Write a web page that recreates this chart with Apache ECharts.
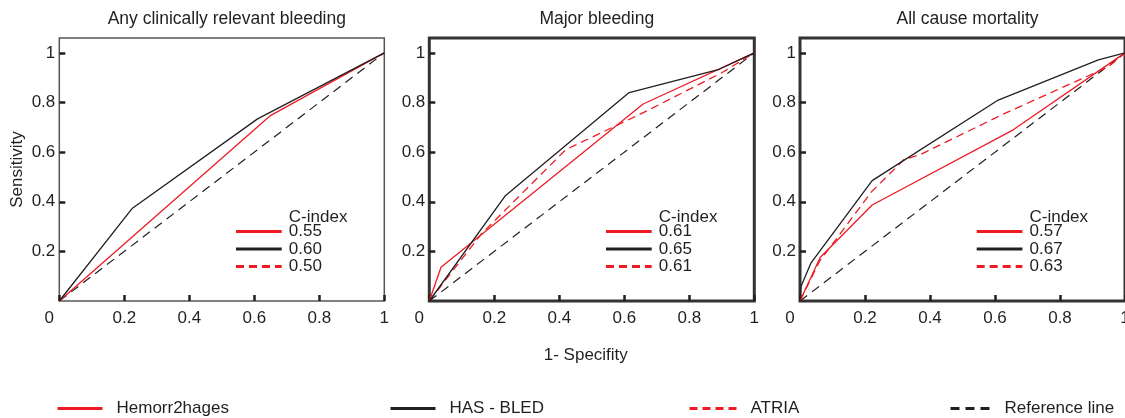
<!DOCTYPE html>
<html>
<head>
<meta charset="utf-8">
<script src="https://cdn.jsdelivr.net/npm/echarts@6/dist/echarts.min.js"></script>
<style>
html,body{margin:0;padding:0;background:#fff;}
#c{width:1125px;height:418px;}
</style>
</head>
<body>
<div id="c"></div>
<script>
// ---------- data ----------
const panelTitles = ['Any clinically relevant bleeding', 'Major bleeding', 'All cause mortality'];
const xTickLabels = ['0', '0.2', '0.4', '0.6', '0.8', '1'];
const yTickLabels = ['', '0.2', '0.4', '0.6', '0.8', '1'];
const seriesNames = ['Hemorr2hages', 'HAS - BLED', 'ATRIA', 'Reference line'];

const referenceLine = [[0, 0], [1, 1]];

// Panel 1: Any clinically relevant bleeding
const p1Hemorr = [[0, 0], [0.648, 0.746], [1, 1]];
const p1HasBled = [[0, 0], [0.225, 0.374], [0.61, 0.734], [1, 1]];
const p1CIndex = ['0.55', '0.60', '0.50'];

// Panel 2: Major bleeding
const p2Hemorr = [[0, 0], [0.036, 0.136], [0.658, 0.794], [1, 1]];
const p2HasBled = [[0, 0], [0.233, 0.423], [0.615, 0.84], [0.892, 0.934], [1, 1]];
const p2Atria = [[0, 0], [0.16, 0.27], [0.42, 0.61], [0.66, 0.76], [0.9, 0.92], [1, 1]];
const p2CIndex = ['0.61', '0.65', '0.61'];

// Panel 3: All cause mortality
const p3Hemorr = [[0, 0], [0.062, 0.175], [0.222, 0.387], [0.656, 0.69], [1, 1]];
const p3HasBled = [[0, 0], [0.003, 0.058], [0.034, 0.154], [0.222, 0.485], [0.61, 0.81], [0.918, 0.972], [1, 1]];
const p3Atria = [[0, 0], [0.06, 0.16], [0.22, 0.44], [0.32, 0.57], [0.37, 0.59], [0.62, 0.75], [0.95, 0.945], [1, 1]];
const p3CIndex = ['0.57', '0.67', '0.63'];

// ---------- styling ----------
const FONT = '"Liberation Sans", Arial, sans-serif';
const RED = '#ed1c24';
const BLACK = '#231f20';
const TXT = '#231f20';
const FS = 17;

const gridLefts = [59.3, 429.3, 800];
const gridTop = 38, gridW = 325, gridH = 263;
const borderStyles = [
  { color: '#555', width: 1.5 },
  { color: '#333', width: 3 },
  { color: '#333', width: 3 }
];

const panels = [
  { hemorr: p1Hemorr, has: p1HasBled, atria: null, cidx: p1CIndex },
  { hemorr: p2Hemorr, has: p2HasBled, atria: p2Atria, cidx: p2CIndex },
  { hemorr: p3Hemorr, has: p3HasBled, atria: p3Atria, cidx: p3CIndex }
];

const grids = [], xAxes = [], yAxes = [], series = [], titles = [], graphics = [];

panels.forEach((p, i) => {
  const gl = gridLefts[i];
  grids.push({
    left: gl, top: gridTop, width: gridW, height: gridH,
    outerBoundsMode: 'none', containLabel: false,
    show: true, borderColor: borderStyles[i].color, borderWidth: borderStyles[i].width,
    backgroundColor: 'transparent'
  });
  titles.push({
    text: panelTitles[i], left: gl + gridW / 2, top: 5, textAlign: 'center',
    textStyle: { fontSize: 17.5, fontWeight: 'normal', color: TXT, fontFamily: FONT }
  });
  const xa = {
    type: 'value', gridIndex: i, min: 0, max: 1, interval: 0.2,
    axisLine: { show: false },
    splitLine: { show: false },
    axisTick: { inside: true, length: 6, lineStyle: { color: BLACK, width: 2.5 } },
    axisLabel: {
      margin: 9, fontSize: FS, color: TXT, fontFamily: FONT,
      formatter: v => {
        const k = Math.round(v / 0.2);
        if (Math.abs(v - k * 0.2) > 1e-6) return '';
        return k === 0 ? '{z|' + xTickLabels[0] + '}' : xTickLabels[k];
      },
      rich: { z: { padding: [0, 20, 0, 0], fontSize: FS, color: TXT, fontFamily: FONT } }
    }
  };
  if (i === 1) {
    xa.name = '1- Specifity';
    xa.nameLocation = 'middle';
    xa.nameGap = 46;
    xa.nameTextStyle = { fontSize: FS, color: TXT, fontFamily: FONT, padding: [0, 12, 0, 0] };
  }
  xAxes.push(xa);
  const ya = {
    type: 'value', gridIndex: i, min: 0, max: 1.06, interval: 0.2,
    axisLine: { show: false },
    splitLine: { show: false },
    axisTick: {
      inside: true, length: 6, lineStyle: { color: BLACK, width: 2.5 },
      customValues: [0.2, 0.4, 0.6, 0.8, 1]
    },
    axisLabel: {
      margin: 4, fontSize: FS, color: TXT, fontFamily: FONT,
      formatter: v => {
        const k = Math.round(v / 0.2);
        if (Math.abs(v - k * 0.2) > 1e-6) return '';
        return yTickLabels[k] || '';
      }
    }
  };
  if (i === 0) {
    ya.name = 'Sensitivity';
    ya.nameLocation = 'middle';
    ya.nameGap = 33;
    ya.nameTextStyle = { fontSize: FS, color: TXT, fontFamily: FONT };
  }
  yAxes.push(ya);

  const base = { type: 'line', xAxisIndex: i, yAxisIndex: i, symbol: 'none', showSymbol: false, silent: true, animation: false };
  series.push(Object.assign({}, base, { name: seriesNames[3], data: referenceLine,
    itemStyle: { color: BLACK }, lineStyle: { color: BLACK, width: 1.2, type: [9, 6] } }));
  if (p.atria) series.push(Object.assign({}, base, { name: seriesNames[2], data: p.atria,
    itemStyle: { color: RED }, lineStyle: { color: RED, width: 1.3, type: [8, 5] } }));
  series.push(Object.assign({}, base, { name: seriesNames[0], data: p.hemorr,
    itemStyle: { color: RED }, lineStyle: { color: RED, width: 1.3, type: 'solid' } }));
  series.push(Object.assign({}, base, { name: seriesNames[1], data: p.has,
    itemStyle: { color: BLACK }, lineStyle: { color: BLACK, width: 1.3, type: 'solid' } }));

  // C-index mini legend
  const lx1 = gl + 176.7, lx2 = gl + 222.4, tx = gl + 229.5;
  const rows = [231.5, 249, 266.5];
  const rowStyles = [
    { stroke: RED, lineWidth: 3 },
    { stroke: BLACK, lineWidth: 3 },
    { stroke: RED, lineWidth: 3, lineDash: [8, 5] }
  ];
  graphics.push({ type: 'text', x: tx, y: 217, style: { text: 'C-index', fill: TXT, font: FS + 'px ' + FONT, verticalAlign: 'middle' } });
  rows.forEach((ry, r) => {
    graphics.push({ type: 'line', shape: { x1: lx1, y1: ry, x2: lx2, y2: ry }, style: rowStyles[r] });
    graphics.push({ type: 'text', x: tx, y: ry, style: { text: p.cidx[r], fill: TXT, font: FS + 'px ' + FONT, verticalAlign: 'middle' } });
  });
});

const legendLefts = [56, 389, 688, 949];
const legendWidths = [45, 45, 47, 40];
const legends = seriesNames.map((n, k) => ({
  data: [n], left: legendLefts[k], top: 400, itemWidth: legendWidths[k], itemHeight: 14,
  selectedMode: false, padding: 0,
  itemStyle: { opacity: 0, borderWidth: 0 },
  lineStyle: { width: 3 },
  textStyle: { fontSize: FS, color: TXT, fontFamily: FONT, padding: [0, 0, 0, 9] }
}));

const chart = echarts.init(document.getElementById('c'), null, { renderer: 'canvas' });
chart.setOption({
  animation: false,
  backgroundColor: '#fff',
  title: titles,
  grid: grids,
  xAxis: xAxes,
  yAxis: yAxes,
  legend: legends,
  series: series,
  graphic: graphics
});
</script>
</body>
</html>
